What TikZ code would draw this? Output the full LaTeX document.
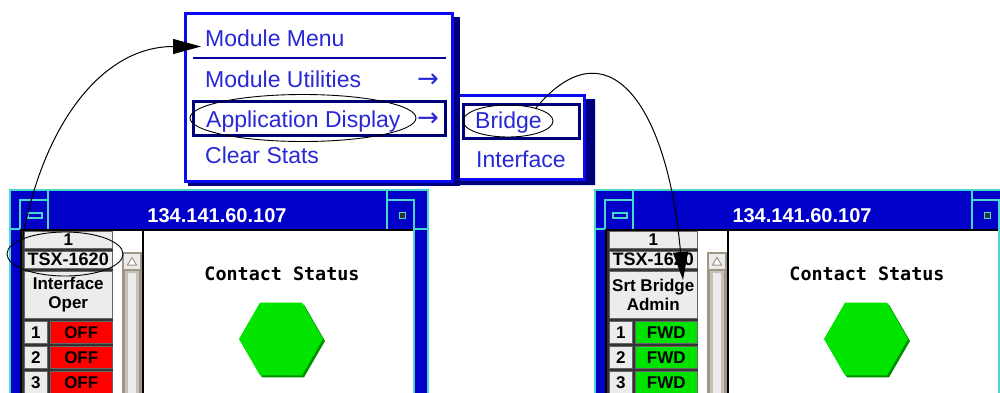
\documentclass[tikz,border=0pt]{standalone}
\usepackage{fontspec}
\setmainfont{Liberation Sans}
\newfontfamily\screenmono{DejaVu Sans Mono}
\newfontfamily\arrowfont{DejaVu Sans}
\usetikzlibrary{arrows.meta, shapes.geometric}

% screen colours
\definecolor{menublue}{RGB}{10,10,245}
\definecolor{menutext}{RGB}{40,40,215}
\definecolor{navy}{RGB}{0,0,125}
\definecolor{winblue}{RGB}{0,0,200}
\definecolor{wincyan}{RGB}{70,215,205}
\definecolor{cellgrey}{RGB}{236,236,236}
\definecolor{taupe}{RGB}{160,150,134}
\definecolor{offred}{RGB}{255,0,0}
\definecolor{fwdgreen}{RGB}{0,226,0}
\definecolor{hexgreen}{RGB}{0,228,0}
\definecolor{hexshade}{RGB}{0,145,0}

\tikzset{
x=1pt, y=-1pt, % one unit is one pixel, y counts downwards
item/.style={anchor=base west, inner sep=0pt, text=menutext, font=\fontsize{23}{27}\selectfont}, % menu entries
more/.style={item, font=\arrowfont\fontsize{26}{30}\selectfont}, % sub menu arrows
ring/.style={ellipse, draw=black, line width=0.9pt, inner sep=0pt}, % hand drawn marks
link/.style={draw=black, line width=1pt, -{Triangle[length=28pt,width=15pt]}},
cell/.style={anchor=north west, fill=cellgrey, draw=black!60, line width=0.5pt, inner sep=0pt, font=\bfseries\fontsize{17}{18.5}\selectfont},
frameline/.style={draw=wincyan, line width=1.6pt},
hexagon/.style={regular polygon, regular polygon sides=6, minimum size=84pt, inner sep=0pt},
}

\begin{document}
\begin{tikzpicture}
  \useasboundingbox (0,0) rectangle (1000,392);
  \clip (0,0) rectangle (1000,392);
  \fill[white] (0,0) rectangle (1000,392);

  % the two device windows
  \foreach \ox/\w/\topl/\botl/\stat/\statc in {0/L/Interface/Oper/OFF/offred, 585/R/Srt Bridge/Admin/FWD/fwdgreen}{
    \begin{scope}[xshift=\ox pt]
      \fill[winblue] (10,190) rectangle (428,400);
      \draw[frameline] (10,400) -- (10,190) -- (428,190) -- (428,400);
      \fill[white] (21,230) rectangle (413,400);
      \draw[black, line width=2pt] (21,400) -- (21,230) -- (413,230);
      \draw[frameline] (414,200) -- (414,400);
      \draw[frameline] (48,190) -- (48,229) (387,190) -- (387,229)
                       (20,229) -- (20,200) -- (48,200) (387,200) -- (415,200)
                       (10,229) -- (20,229) (415,229) -- (428,229);
      \draw[wincyan, fill=winblue, line width=1.2pt] (28,213) rectangle (42,218);
      \draw[wincyan, fill=black!80, line width=1pt] (399,212) rectangle (405,218);
      \node[anchor=base, inner sep=0pt, text=white, font=\bfseries\fontsize{20}{24}\selectfont] (\w-title) at (217,222) {134.141.60.107};

      % port panel
      \fill[black!80] (22,231) rectangle (113,400);
      \node[cell, minimum width=88pt, minimum height=17pt] (\w-slot) at (24,231) {1};
      \node[cell, minimum width=88pt, minimum height=17pt, font=\bfseries\fontsize{18}{20}\selectfont] (\w-module) at (24,251) {TSX-1620};
      \node[cell, minimum width=88pt, minimum height=47pt, align=center] (\w-head) at (24,271) {\topl\\\botl};
      \foreach \r/\y in {1/321, 2/346, 3/371}{
        \node[cell, minimum width=23pt, minimum height=22pt] (\w-port\r) at (24,\y) {\r};
        \node[cell, minimum width=62pt, minimum height=22pt, fill=\statc] (\w-state\r) at (50,\y) {\stat};
      }

      % scroll bar
      \draw[black, line width=1.6pt] (143,230) -- (143,400);
      \fill[taupe] (122,252) rectangle (142,400);
      \fill[cellgrey] (124,254) rectangle (140,269);
      \draw[taupe, line width=1pt, fill=white] (127.5,265) -- (132,257.5) -- (136.5,265) -- cycle;
      \fill[taupe!60] (125,271) rectangle (139,400);
      \fill[cellgrey] (128,273) rectangle (136,400);

      % contact indicator
      \node[anchor=base, inner sep=0pt, font=\screenmono\bfseries\fontsize{18.4}{22}\selectfont] (\w-contact) at (282,280) {Contact Status};
      \node[hexagon, fill=hexshade] (\w-hexshade) at (283,341) {};
      \node[hexagon, fill=hexgreen] (\w-hex) at (281,339) {};
    \end{scope}
  }

  % sub menu
  \draw[menublue, fill=white, line width=3pt] (456.5,95.5) rectangle (584.5,179.5);
  \fill[navy] (586,99) rectangle (595,185) (460,181) rectangle (595,185);
  \draw[navy, line width=3pt] (463.5,104.5) rectangle (579.5,138.5);
  \node[item] (bridgeItem) at (475,128) {Bridge};
  \node[item] (ifaceItem) at (476,167) {Interface};

  % module menu
  \fill[navy] (188,17) rectangle (460,186);
  \draw[menublue, fill=white, line width=3pt] (185.5,13.5) rectangle (452.5,181.5);
  \node[item] (menuTitle) at (205,46.5) {Module Menu};
  \draw[navy!70!menublue, line width=2.5pt] (193,58) -- (446,58);
  \node[item] (menuUtil) at (205,87) {Module Utilities};
  \node[more] (utilArrow) at (417,87) {→};
  \draw[navy, line width=3pt] (193.5,101.5) rectangle (445.5,135.5);
  \node[item] (menuApp) at (206,127) {Application Display};
  \node[more] (appArrow) at (417,126) {→};
  \node[item] (menuClear) at (205,163) {Clear Stats};

  % marks and pointers
  \node[ring, minimum width=116pt, minimum height=44pt] (tsxRing) at (65,254) {};
  \node[ring, minimum width=226pt, minimum height=47pt] (appRing) at (303,118) {};
  \node[ring, minimum width=90pt, minimum height=32pt] (bridgeRing) at (508,121) {};
  \coordinate (adminTip) at (683,280);

  \draw[link] (tsxRing.160) .. controls +(20,-112) and +(-100,0) .. ([xshift=-4pt]menuTitle.base west);
  \draw[link] (bridgeRing.25) .. controls +(70,-84) and +(-16,-180) .. (adminTip);
\end{tikzpicture}
\end{document}
